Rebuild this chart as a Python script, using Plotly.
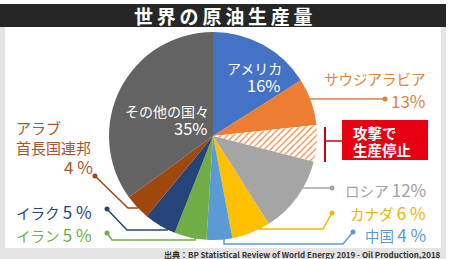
import plotly.graph_objects as go

# ---- data ----
slices = ["アメリカ", "サウジアラビア", "サウジアラビア（攻撃で生産停止）", "ロシア", "カナダ",
          "中国", "イラン", "イラク", "アラブ首長国連邦", "その他の国々"]
slice_values = [16, 7.3, 5.7, 12, 6, 4, 5, 5, 4, 35]
slice_colors = ["#4472C4", "#ED7D31", "#ED7D31", "#A5A5A5", "#FFC000",
                "#5B9BD5", "#70AD47", "#264478", "#9E480E", "#636363"]

country_pct = {"アメリカ": 16, "サウジアラビア": 13, "ロシア": 12, "カナダ": 6, "中国": 4,
               "イラン": 5, "イラク": 5, "アラブ首長国連邦": 4, "その他の国々": 35}

title_text = "世界の原油生産量"
source_text = "出典：BP Statistical Review of World Energy 2019 - Oil Production,2018"
attack_lines = ["攻撃で", "生産停止"]

W, H = 450, 259
FONT = "Noto Sans CJK JP, Noto Sans, sans-serif"


def px(x, y):
    return x / W, 1 - y / H


def path(points):
    s = ""
    for i, (x, y) in enumerate(points):
        fx, fy = px(x, y)
        s += ("M" if i == 0 else "L") + f"{fx:.5f},{fy:.5f} "
    return s.strip()


fig = go.Figure()

cx, cy, r = 213, 136, 104
fig.add_trace(go.Pie(
    labels=slices, values=slice_values, sort=False, direction="clockwise", rotation=0,
    textinfo="none", hoverinfo="skip", showlegend=False,
    marker=dict(colors=slice_colors, line=dict(width=0),
                pattern=dict(shape=["", "", "/", "", "", "", "", "", "", ""],
                             fgcolor="#ED7D31", bgcolor="white", size=4.5, solidity=0.25,
                             fillmode="replace")),
    domain=dict(x=[(cx - r) / W, (cx + r) / W], y=[(H - cy - r) / H, (H - cy + r) / H]),
))

shapes = []
# background frame
x0, y0 = px(0, 27); x1, y1 = px(446, 259)
shapes.append(dict(type="rect", xref="paper", yref="paper", x0=x0, y0=y1, x1=x1, y1=y0,
                   fillcolor="#E4E4E4", line=dict(width=0), layer="below"))
x0, y0 = px(5, 27); x1, y1 = px(441, 248)
shapes.append(dict(type="rect", xref="paper", yref="paper", x0=x0, y0=y1, x1=x1, y1=y0,
                   fillcolor="white", line=dict(width=0), layer="below"))
# title bar
x0, y0 = px(0, 4); x1, y1 = px(446, 27)
shapes.append(dict(type="rect", xref="paper", yref="paper", x0=x0, y0=y1, x1=x1, y1=y0,
                   fillcolor="#262626", line=dict(width=0), layer="below"))
# red box
x0, y0 = px(342, 120); x1, y1 = px(428, 160)
shapes.append(dict(type="rect", xref="paper", yref="paper", x0=x0, y0=y1, x1=x1, y1=y0,
                   fillcolor="#E60012", line=dict(width=0)))
# bracket
shapes.append(dict(type="path", xref="paper", yref="paper",
                   path=path([(325, 127), (325, 162)]), line=dict(color="#C8001A", width=2)))
shapes.append(dict(type="path", xref="paper", yref="paper",
                   path=path([(325, 141), (342, 141)]), line=dict(color="#C8001A", width=1.5)))

leaders = [
    ([(310, 99), (385, 99)], "#E0823C"),
    ([(303, 188), (332, 188)], "#A5A5A5"),
    ([(259, 229), (323, 229), (332, 213)], "#F2B800"),
    ([(224, 239), (224, 244), (343, 244), (353, 232)], "#5B9BD5"),
    ([(195, 237), (195, 240), (112, 240), (107, 233)], "#70AD47"),
    ([(168, 230), (127, 230), (107, 209)], "#264478"),
    ([(138, 208), (128, 208), (95, 176)], "#9E480E"),
]
for pts, col in leaders:
    shapes.append(dict(type="path", xref="paper", yref="paper", path=path(pts),
                       line=dict(color=col, width=1.5)))
    dx, dy = pts[-1]
    a0, b0 = px(dx - 2.5, dy - 2.5); a1, b1 = px(dx + 2.5, dy + 2.5)
    shapes.append(dict(type="circle", xref="paper", yref="paper", x0=a0, y0=b1, x1=a1, y1=b0,
                       fillcolor=col, line=dict(width=0)))

ann = []


def add_text(text, x, y, color, size=14, xanchor="left", align="left", bold=False):
    fx, fy = px(x, y)
    ann.append(dict(text=f"<b>{text}</b>" if bold else text, x=fx, y=fy, xref="paper", yref="paper",
                    xanchor=xanchor, yanchor="middle", align=align, showarrow=False,
                    font=dict(family=FONT, size=size, color=color)))


def big(s, size=17):
    return f"<span style='font-size:{size}px'>{s}</span>"


# title with letter spacing
spaced = "\u2009".join(title_text)
add_text(spaced, 223, 16, "white", size=19, xanchor="center", align="center", bold=True)

# inside labels
add_text("アメリカ", 284, 68, "white", 14, xanchor="right")
add_text(f"{country_pct['アメリカ']}%", 283, 85, "white", 16.5, xanchor="right")
add_text("その他の国々", 211, 111, "white", 14, xanchor="right")
add_text(f"{country_pct['その他の国々']}%", 210, 128, "white", 16.5, xanchor="right")

# right side labels
add_text("サウジアラビア", 428, 78, "#E0823C", 14.5, xanchor="right")
add_text(f"{country_pct['サウジアラビア']}%", 428, 100, "#E0823C", 17, xanchor="right")
add_text(f"ロシア {big(str(country_pct['ロシア']) + '%')}", 428, 189, "#A0A0A0", 14.5, xanchor="right")
add_text(f"カナダ {big(str(country_pct['カナダ']) + ' %')}", 428, 212, "#EDB300", 14.5, xanchor="right")
add_text(f"中国 {big(str(country_pct['中国']) + ' %')}", 428, 234, "#5B9BD5", 14.5, xanchor="right")

# left side labels
add_text("アラブ", 14, 127, "#A8562A", 15)
add_text("首長国連邦", 14, 147, "#A8562A", 15)
add_text(f"{country_pct['アラブ首長国連邦']} %", 95, 166, "#A8562A", 17, xanchor="right")
add_text(f"イラク {big(str(country_pct['イラク']) + ' %')}", 14, 211, "#264478", 14.5)
add_text(f"イラン {big(str(country_pct['イラン']) + ' %')}", 14, 234, "#70AD47", 14.5)

# red box text
add_text(attack_lines[0], 351, 132, "white", 14.5, bold=True)
add_text(attack_lines[1], 351, 149, "white", 14.5, bold=True)

# source
add_text(source_text, 443, 254, "#333333", 8, xanchor="right", bold=True)

fig.update_layout(width=W, height=H, margin=dict(l=0, r=0, t=0, b=0),
                  paper_bgcolor="white", plot_bgcolor="white",
                  shapes=shapes, annotations=ann, showlegend=False)

fig.write_html("out.html")
